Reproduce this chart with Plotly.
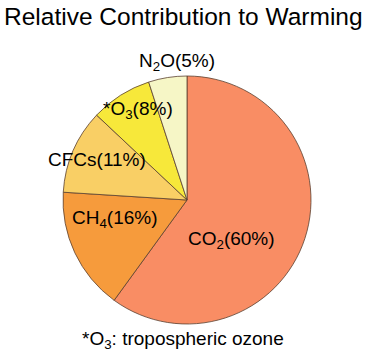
import plotly.graph_objects as go

labels = ["CO2", "CH4", "CFCs", "*O3", "N2O"]
display = ["CO<sub>2</sub>(60%)", "CH<sub>4</sub>(16%)", "CFCs(11%)", "*O<sub>3</sub>(8%)", "N<sub>2</sub>O(5%)"]
values = [60, 16, 11, 8, 5]
colors = ["#F98D64", "#F69B3C", "#F9CF65", "#F7E83A", "#F6F6C6"]
# label anchor positions (pixels in the 369x359 frame)
label_px = [(231, 240), (115, 219), (97, 160), (138, 110), (177, 62)]

W, H = 369, 359
fig = go.Figure(go.Pie(
    labels=labels, values=values, textinfo="none",
    sort=False, direction="clockwise", rotation=0,
    marker=dict(colors=colors, line=dict(color="#5a4030", width=0.8)),
    domain=dict(x=[62/W, 312/W], y=[1 - 324/H, 1 - 76/H]),
    showlegend=False, hoverinfo="label+percent",
))
ann = [
    dict(text="Relative Contribution to Warming", x=183/W, y=1 - 17/H, xref="paper", yref="paper",
         showarrow=False, font=dict(size=24.5), xanchor="center", yanchor="middle"),
    dict(text="*O<sub>3</sub>: tropospheric ozone", x=183/W, y=1 - 340/H, xref="paper", yref="paper",
         showarrow=False, font=dict(size=19), xanchor="center", yanchor="middle"),
]
for t, (px, py) in zip(display, label_px):
    ann.append(dict(text=t, x=px/W, y=1 - py/H, xref="paper", yref="paper", showarrow=False,
                    font=dict(size=19), xanchor="center", yanchor="middle"))
fig.update_layout(
    width=W, height=H, margin=dict(l=0, r=0, t=0, b=0),
    paper_bgcolor="white",
    font=dict(family="Liberation Sans, Arial", color="black"),
    annotations=ann,
)
fig.write_html("out.html", config={"displayModeBar": False},
               post_script="document.body.style.margin='0';document.body.style.overflow='hidden';")
